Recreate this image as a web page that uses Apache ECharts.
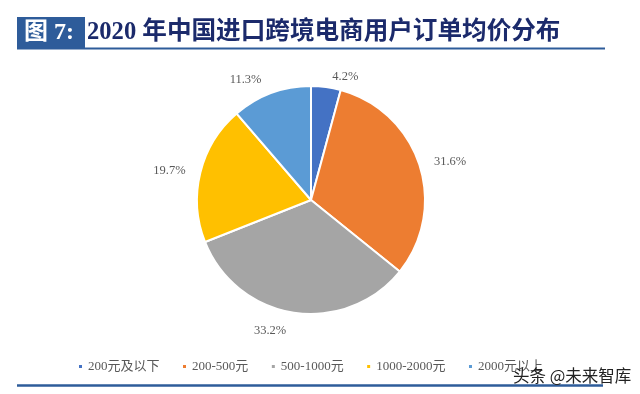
<!DOCTYPE html>
<html>
<head>
<meta charset="utf-8">
<script src="https://cdn.jsdelivr.net/npm/echarts@6/dist/echarts.min.js"></script>
<style>
html,body{margin:0;padding:0;background:#fff;}
#chart{width:640px;height:394px;}
</style>
</head>
<body>
<div id="chart"></div>
<script>
const categories = ['200元及以下', '200-500元', '500-1000元', '1000-2000元', '2000元以上'];
const values = [4.2, 31.6, 33.2, 19.7, 11.3];
const colors = ['#4472C4', '#ED7D31', '#A5A5A5', '#FFC000', '#5B9BD5'];
const labelGaps = [10, 10, 18, 10, 14];
const titleBox = '图 7:';
const titleText = '2020 年中国进口跨境电商用户订单均价分布';
const watermark = '头条 @未来智库';

const serif = '"Liberation Serif","DejaVu Serif","Noto Sans CJK SC",serif';

const chart = echarts.init(document.getElementById('chart'), null, {renderer: 'canvas'});
chart.setOption({
  backgroundColor: '#fff',
  animation: false,
  color: colors,
  legend: {
    data: categories,
    left: 72,
    top: 355,
    icon: 'rect',
    itemWidth: 5,
    itemHeight: 5,
    itemGap: 21.5,
    textStyle: {color: '#595959', fontSize: 13, fontFamily: serif}
  },
  graphic: [
    {type: 'rect', shape: {x: 17, y: 17, width: 68, height: 31}, style: {fill: '#2E5C9A'}},
    {type: 'text', style: {x: 24, y: 33, text: titleBox, fill: '#fff', font: 'bold 24px ' + serif, textVerticalAlign: 'middle'}},
    {type: 'text', style: {x: 87, y: 33, text: titleText, fill: '#1B2A6B', font: 'bold 24.6px ' + serif, textVerticalAlign: 'middle'}},
    {type: 'line', shape: {x1: 17, y1: 48.5, x2: 605, y2: 48.5}, style: {stroke: '#2E5C9A', lineWidth: 2}},
    {type: 'line', shape: {x1: 17, y1: 385.5, x2: 603, y2: 385.5}, style: {stroke: '#2E5C9A', lineWidth: 2.5}},
    {type: 'text', z: 100, style: {x: 513, y: 376, text: watermark, fill: '#222', font: '16.5px "Noto Sans CJK SC",sans-serif', textVerticalAlign: 'middle'}}
  ],
  series: [{
    type: 'pie',
    center: [311, 200],
    radius: [0, 114],
    startAngle: 90,
    clockwise: true,
    avoidLabelOverlap: false,
    itemStyle: {borderColor: '#fff', borderWidth: 2},
    label: {
      show: true,
      position: 'outside',
      formatter: p => p.value.toFixed(1) + '%',
      color: '#595959',
      fontSize: 12.5,
      fontFamily: serif
    },
    labelLine: {show: false, length: 10, length2: 0},
    data: categories.map((c, i) => ({name: c, value: values[i], labelLine: {length: labelGaps[i]}}))
  }]
});
</script>
</body>
</html>
